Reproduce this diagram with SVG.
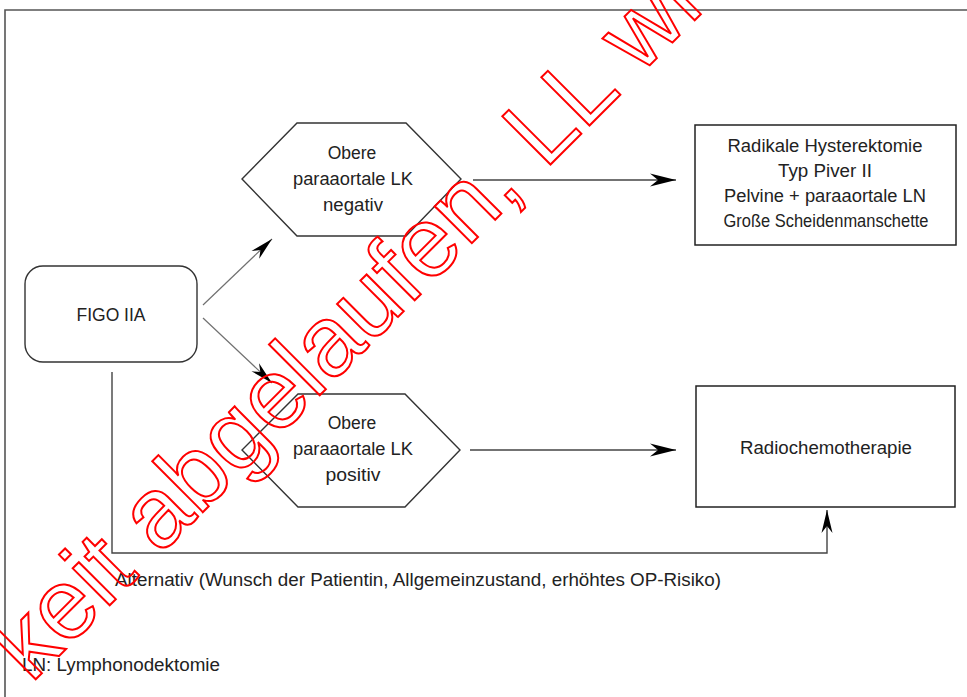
<svg xmlns="http://www.w3.org/2000/svg" width="967" height="697" viewBox="0 0 967 697">
  <style>
    .lbl { font-family: "Liberation Sans", Arial, sans-serif; font-size: 17.5px; fill: #222; }
    .mid { text-anchor: middle; }
    .shape { fill: #fff; stroke: #333; stroke-width: 1.4; }
    .box { fill: #fff; stroke: #222; stroke-width: 1.5; }
    .edge { fill: none; stroke: #444; stroke-width: 1.4; }
    .edge.thin { stroke: #707070; stroke-width: 1.2; }
    .frame { fill: none; stroke: #555; stroke-width: 1.6; }
    .stamp { font-family: "Liberation Sans", Arial, sans-serif; font-size: 99px; fill: none; stroke: #ff0000; stroke-width: 2; }
  </style>
  <defs>
    <marker id="arrow" markerUnits="userSpaceOnUse" markerWidth="30" markerHeight="16" viewBox="-27 -8 28 16" refX="0" refY="0" orient="auto">
      <path d="M0,0 L-26,-6.5 L-18,0 L-26,6.5 Z" fill="#000"/>
    </marker>
    <marker id="arrowSmall" markerUnits="userSpaceOnUse" markerWidth="26" markerHeight="14" viewBox="-24 -7 25 14" refX="0" refY="0" orient="auto">
      <path d="M0,0 L-23,-5.5 L-16,0 L-23,5.5 Z" fill="#000"/>
    </marker>
  </defs>

  <rect width="967" height="697" fill="#fff"/>

  <!-- outer frame (open at right and bottom) -->
  <path class="frame" d="M5,697 L5,10 L967,10"/>

  <!-- connectors -->
  <g id="connectors">
    <line class="edge thin" x1="203" y1="305" x2="272" y2="239" marker-end="url(#arrowSmall)"/>
    <line class="edge thin" x1="203" y1="318" x2="272" y2="383" marker-end="url(#arrowSmall)"/>
    <line class="edge" x1="473" y1="180" x2="676" y2="180" marker-end="url(#arrow)"/>
    <line class="edge" x1="470" y1="450" x2="676" y2="450" marker-end="url(#arrow)"/>
    <path class="edge" d="M112,372 L112,553 L827,553 L827,510" marker-end="url(#arrowSmall)"/>
  </g>

  <!-- start node -->
  <g id="figo">
    <rect class="shape" x="25" y="266" width="172" height="96" rx="18" ry="18"/>
    <text class="lbl mid" x="111" y="321" textLength="69" lengthAdjust="spacingAndGlyphs">FIGO IIA</text>
  </g>

  <!-- upper paraaortic nodes negative -->
  <g id="lk-negativ">
    <polygon class="shape" points="297,123 406,123 461,179 406,236 297,236 242,179"/>
    <text class="lbl mid" x="352" y="159">Obere</text>
    <text class="lbl mid" x="353" y="185" textLength="120" lengthAdjust="spacingAndGlyphs">paraaortale LK</text>
    <text class="lbl mid" x="353" y="211" textLength="60" lengthAdjust="spacingAndGlyphs">negativ</text>
  </g>

  <!-- upper paraaortic nodes positive -->
  <g id="lk-positiv">
    <polygon class="shape" points="298,394 405,394 460,450 405,507 298,507 242,450"/>
    <text class="lbl mid" x="352" y="429">Obere</text>
    <text class="lbl mid" x="353" y="455" textLength="120" lengthAdjust="spacingAndGlyphs">paraaortale LK</text>
    <text class="lbl mid" x="353" y="481" textLength="55" lengthAdjust="spacingAndGlyphs">positiv</text>
  </g>

  <!-- surgery -->
  <g id="operation">
    <rect class="box" x="695" y="125" width="261" height="120"/>
    <text class="lbl mid" x="825" y="152" textLength="195" lengthAdjust="spacingAndGlyphs">Radikale Hysterektomie</text>
    <text class="lbl mid" x="825" y="177" textLength="94" lengthAdjust="spacingAndGlyphs">Typ Piver II</text>
    <text class="lbl mid" x="825" y="202" textLength="202" lengthAdjust="spacingAndGlyphs">Pelvine + paraaortale LN</text>
    <text class="lbl mid" x="826" y="227" textLength="205" lengthAdjust="spacingAndGlyphs">Große Scheidenmanschette</text>
  </g>

  <!-- radiochemotherapy -->
  <g id="radiochemo">
    <rect class="box" x="696" y="386" width="259" height="121"/>
    <text class="lbl mid" x="826" y="454" textLength="172" lengthAdjust="spacingAndGlyphs">Radiochemotherapie</text>
  </g>

  <!-- notes -->
  <g id="notes">
    <text class="lbl" x="115" y="586" textLength="606" lengthAdjust="spacingAndGlyphs">Alternativ (Wunsch der Patientin, Allgemeinzustand, erhöhtes OP-Risiko)</text>
    <text class="lbl" x="22" y="671" textLength="198" lengthAdjust="spacingAndGlyphs">LN: Lymphonodektomie</text>
  </g>

  <!-- validity stamp -->
  <g id="stamp">
    <text class="stamp" x="0" y="0" transform="translate(31,684) rotate(-45)">keit abgelaufen, LL wi</text>
  </g>
</svg>
